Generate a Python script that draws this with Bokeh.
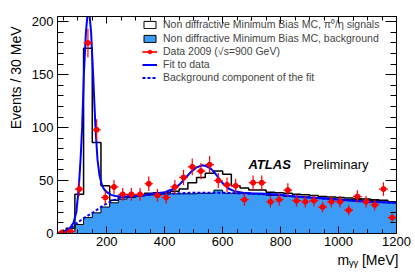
from bokeh.plotting import figure
from bokeh.models import (Range1d, LinearAxis, FixedTicker, Label, Legend,
                          LegendItem, ColumnDataSource, Title)
from bokeh.embed import file_html
from bokeh.resources import INLINE

# ---------------- data ----------------
bin_width = 30
bin_centers = [45, 75, 105, 135, 165, 195, 225, 255, 285, 315,
               345, 375, 405, 435, 465, 495, 525, 555, 585, 615,
               645, 675, 705, 735, 765, 795, 825, 855, 885, 915,
               945, 975, 1005, 1035, 1065, 1095, 1125, 1155, 1185]
mc_total = [1, 5, 37, 175, 86, 45, 31.5, 34.5, 35.5, 36.5,
            38, 38.5, 38.5, 40, 42, 48, 53, 57, 59, 56,
            45, 43, 41, 41, 39, 38.5, 38, 37, 36.5, 36,
            35, 34.5, 34, 33.5, 33, 32.5, 32, 31.5, 30]
mc_background = [0.3, 2, 8.5, 15, 19.5, 25, 29, 32.5, 34, 35.5,
                  36.5, 37, 37.5, 37.5, 37.5, 37.5, 38, 38, 41, 38,
                  38, 38, 37.5, 37, 36, 36, 35, 35, 34.5, 34,
                  33.5, 33, 32.5, 32, 32, 31.5, 31, 31, 30]
data_counts = [1, 2, 42, 180, 98, 34, 44, 37, 37, 37,
               47, 36, 34, 44, 53, 63, 59, 65, 50, 46,
               45, 32, 48, 48, 30, 32, 41, 31, 30, 31,
               25, 30, 30, 22, 35, 30, 27, 42, 15]
data_errors = [1, 1.4, 6.5, 13.4, 9.9, 5.8, 6.6, 6.1, 6.1, 6.1,
               6.9, 6.0, 5.8, 6.6, 7.3, 7.9, 7.7, 8.1, 7.1, 6.8,
               6.7, 5.7, 6.9, 6.9, 5.5, 5.7, 6.4, 5.6, 5.5, 5.6,
               5.0, 5.5, 5.5, 4.7, 5.9, 5.5, 5.2, 6.5, 3.9]
fit_mass = [30, 50, 70, 85, 95, 104, 110, 115, 121, 128,
            133, 137, 141, 146, 153, 161, 168, 175, 182, 190,
            200, 215, 230, 250, 280, 320, 360, 400, 430, 450,
            470, 490, 510, 530, 545, 560, 575, 590, 605, 620,
            640, 670, 700, 750, 800, 850, 900, 950, 1000, 1050,
            1100, 1150, 1200]
fit_total = [0.5, 1.5, 4, 10, 20, 45, 72, 100, 150, 190,
             205, 209, 205, 190, 150, 100, 70, 55, 47, 42,
             39, 36.5, 35.5, 35, 35, 36, 37.5, 39, 42, 46,
             52, 58, 62.5, 64.5, 63.5, 61, 56.5, 51, 46, 42.5,
             40, 38.5, 38, 37.5, 36.5, 35, 34, 33, 32, 31,
             30, 29.5, 29]
bkg_mass = [30, 60, 80, 95, 118, 153, 188, 223, 257, 300,
            350, 400, 450, 500, 550, 600, 650, 700, 750, 800,
            850, 900, 950, 1000, 1050, 1100, 1150, 1200]
bkg_fit = [0, 3, 6, 9.5, 14, 20, 26.5, 31.5, 34, 35.5,
           36.5, 37.5, 38, 38.5, 38.5, 38.5, 38, 37.5, 37, 36,
           35, 34, 33, 32, 31, 30, 29.5, 29]
x_ticks = [200, 400, 600, 800, 1000, 1200]
y_ticks = [0, 50, 100, 150, 200]
legend_labels = ["Non diffractive Minimum Bias MC, \u03c0\u2070/\u03b7 signals",
                 "Non diffractive Minimum Bias MC, background",
                 "Data 2009 (\u221as=900 GeV)",
                 "Fit to data",
                 "Background component of the fit"]
x_title = "m\u1d67\u1d67 [MeV]"
y_title = "Events / 30 MeV"

# ---------------- derived ----------------
n = len(bin_centers)
half = bin_width / 2
lefts = [c - half for c in bin_centers]
rights = [c + half for c in bin_centers]
step_x = lefts + [rights[-1]]

FONT = "Liberation Sans"
BLUE_FILL = "#3b9bf5"
FIT_BLUE = "#0000ff"
RED = "#ff0000"

p = figure(width=415, height=276, output_backend="svg", toolbar_location=None,
           x_range=Range1d(30, 1200), y_range=Range1d(0, 205),
           min_border_left=57, min_border_right=19, min_border_top=16,
           min_border_bottom=43)
p.xgrid.visible = False
p.ygrid.visible = False
p.outline_line_color = "black"
p.outline_line_width = 1
p.background_fill_color = "white"
p.border_fill_color = "white"

# background MC (filled, one seamless area)
p.varea_step(x=step_x, y1=[0] * (n + 1), y2=mc_background + [mc_background[-1]],
             step_mode="after", fill_color=BLUE_FILL)
p.step(x=step_x, y=mc_background + [mc_background[-1]], mode="after",
       line_color="black", line_width=1)
# total MC outline
p.step(x=step_x, y=mc_total + [mc_total[-1]], mode="after",
       line_color="black", line_width=1.5)

# legend swatches: zero-height bins lying on the x axis line
lsrc = ColumnDataSource(dict(left=lefts, right=rights, b=[0] * n))
r_leg1 = p.quad(left="left", right="right", top="b", bottom="b", source=lsrc,
                fill_color="white", line_color="black", line_width=1)
r_leg2 = p.quad(left="left", right="right", top="b", bottom="b", source=lsrc,
                fill_color=BLUE_FILL, line_color="black", line_width=1)

# fit curves
r_bkg = p.line(bkg_mass, bkg_fit, line_color=FIT_BLUE, line_width=2,
               line_dash="3 2")
r_fit = p.line(fit_mass, fit_total, line_color=FIT_BLUE, line_width=2)

# data points
dsrc = ColumnDataSource(dict(x=bin_centers, y=data_counts, left=lefts, right=rights,
                             lo=[c - e for c, e in zip(data_counts, data_errors)],
                             hi=[c + e for c, e in zip(data_counts, data_errors)]))
r_h = p.segment(x0="left", x1="right", y0="y", y1="y", source=dsrc,
                line_color=RED, line_width=1.2)
r_v = p.segment(x0="x", x1="x", y0="lo", y1="hi", source=dsrc,
                line_color=RED, line_width=1.2)
r_pt = p.scatter(x="x", y="y", source=dsrc, size=5, marker="circle",
                 fill_color=RED, line_color=RED)

legend = Legend(items=[
    LegendItem(label=legend_labels[0], renderers=[r_leg1]),
    LegendItem(label=legend_labels[1], renderers=[r_leg2]),
    LegendItem(label=legend_labels[2], renderers=[r_h, r_v, r_pt]),
    LegendItem(label=legend_labels[3], renderers=[r_fit]),
    LegendItem(label=legend_labels[4], renderers=[r_bkg]),
], location=(85, 150))
legend.border_line_alpha = 0
legend.background_fill_alpha = 0
legend.label_text_font = FONT
legend.label_text_font_size = "10.5px"
legend.glyph_width = 15
legend.glyph_height = 9
legend.label_height = 12
legend.label_standoff = 6
legend.spacing = 1
legend.padding = 0
legend.margin = 0
p.add_layout(legend)

# axes
xt = FixedTicker(ticks=x_ticks, minor_ticks=list(range(50, 1201, 50)))
yt = FixedTicker(ticks=y_ticks, minor_ticks=list(range(0, 206, 10)))

def style_axis(ax, ticker, ticks, major_in, minor_in, show_labels, standoff):
    ax.ticker = ticker
    ax.major_tick_in = major_in
    ax.major_tick_out = 0
    ax.minor_tick_in = minor_in
    ax.minor_tick_out = 0
    ax.axis_line_color = "black"
    ax.major_tick_line_color = "black"
    ax.minor_tick_line_color = "black"
    ax.major_label_text_font = FONT
    ax.major_label_text_color = "black"
    ax.major_label_standoff = standoff
    if show_labels:
        ax.major_label_text_font_size = "13px"
    else:
        ax.major_label_text_font_size = "1px"
        ax.major_label_overrides = {t: "" for t in ticks}
        ax.major_label_standoff = 0

style_axis(p.xaxis[0], xt, x_ticks, 7, 4, True, 3)
style_axis(p.yaxis[0], yt, y_ticks, 11, 6, True, 4)
top_ax = LinearAxis()
style_axis(top_ax, xt, x_ticks, 7, 4, False, 0)
p.add_layout(top_ax, "above")
right_ax = LinearAxis()
style_axis(right_ax, yt, y_ticks, 11, 6, False, 0)
p.add_layout(right_ax, "right")

# axis titles (right / top aligned, as in the original)
p.add_layout(Title(text=y_title, align="right", text_font=FONT,
                   text_font_size="14px", text_font_style="normal",
                   text_color="black", standoff=10, offset=10), "left")
p.add_layout(Title(text=x_title, align="right", text_font=FONT,
                   text_font_size="14px", text_font_style="normal",
                   text_color="black", standoff=2, offset=-2), "below")

# ATLAS Preliminary
p.add_layout(Label(x=689, y=65, text="ATLAS", text_font=FONT,
                   text_font_style="bold italic", text_font_size="13px",
                   text_color="black", text_baseline="alphabetic"))
p.add_layout(Label(x=879, y=65, text="Preliminary", text_font=FONT,
                   text_font_size="13px", text_color="black",
                   text_baseline="alphabetic"))

open("out.html", "w").write(file_html(p, INLINE))
